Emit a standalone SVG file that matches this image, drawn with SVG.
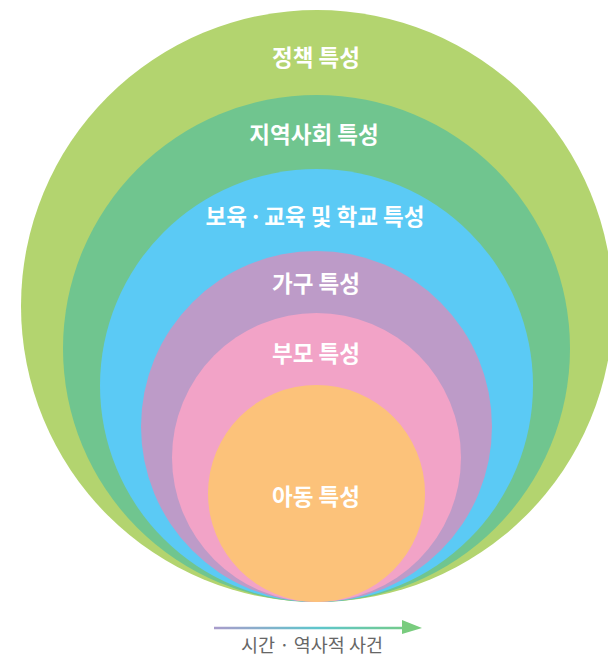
<svg xmlns="http://www.w3.org/2000/svg" width="608" height="656" viewBox="0 0 608 656">
<style>
.lbl{font-family:"Noto Sans CJK KR","Noto Sans",sans-serif;font-weight:bold;font-size:22.5px;fill:#ffffff;text-anchor:middle}
.cap{font-family:"Noto Sans CJK KR","Noto Sans",sans-serif;font-size:18.5px;fill:#666666;text-anchor:middle}
</style>
<defs>
<linearGradient id="ag" x1="214" y1="0" x2="422" y2="0" gradientUnits="userSpaceOnUse">
<stop offset="0" stop-color="#a99ccb"/>
<stop offset="0.5" stop-color="#5ec6cc"/>
<stop offset="1" stop-color="#79cc7e"/>
</linearGradient>
</defs>
<rect width="608" height="656" fill="#ffffff"/>
<g id="policy"><circle cx="317" cy="306" r="296" fill="#b3d46f"/><text class="lbl" x="316" y="66">정책 특성</text></g>
<g id="community"><circle cx="316.5" cy="348.5" r="253.5" fill="#70c58f"/><text class="lbl" x="314" y="143">지역사회 특성</text></g>
<g id="school"><circle cx="316.5" cy="385.5" r="216.5" fill="#5bcaf5"/><text class="lbl" x="315" y="225"><tspan>보육</tspan><tspan dx="2">·</tspan><tspan dx="2">교육 및 학교 특성</tspan></text></g>
<g id="household"><circle cx="316.5" cy="426.5" r="175.5" fill="#bd9bc8"/><text class="lbl" x="316" y="292">가구 특성</text></g>
<g id="parent"><circle cx="316.5" cy="457.5" r="144.5" fill="#f2a3c7"/><text class="lbl" x="316" y="362">부모 특성</text></g>
<g id="child"><circle cx="316.5" cy="493.5" r="108.5" fill="#fcc27a"/><text class="lbl" x="316" y="505">아동 특성</text></g>
<g id="connectors">
<line x1="214" y1="628" x2="404" y2="628" stroke="url(#ag)" stroke-width="2.5"/>
<polygon points="402,620 422,628 402,634" fill="#79cc7e"/>
</g>
<g id="time"><text class="cap" x="312" y="652">시간 · 역사적 사건</text></g>
</svg>
